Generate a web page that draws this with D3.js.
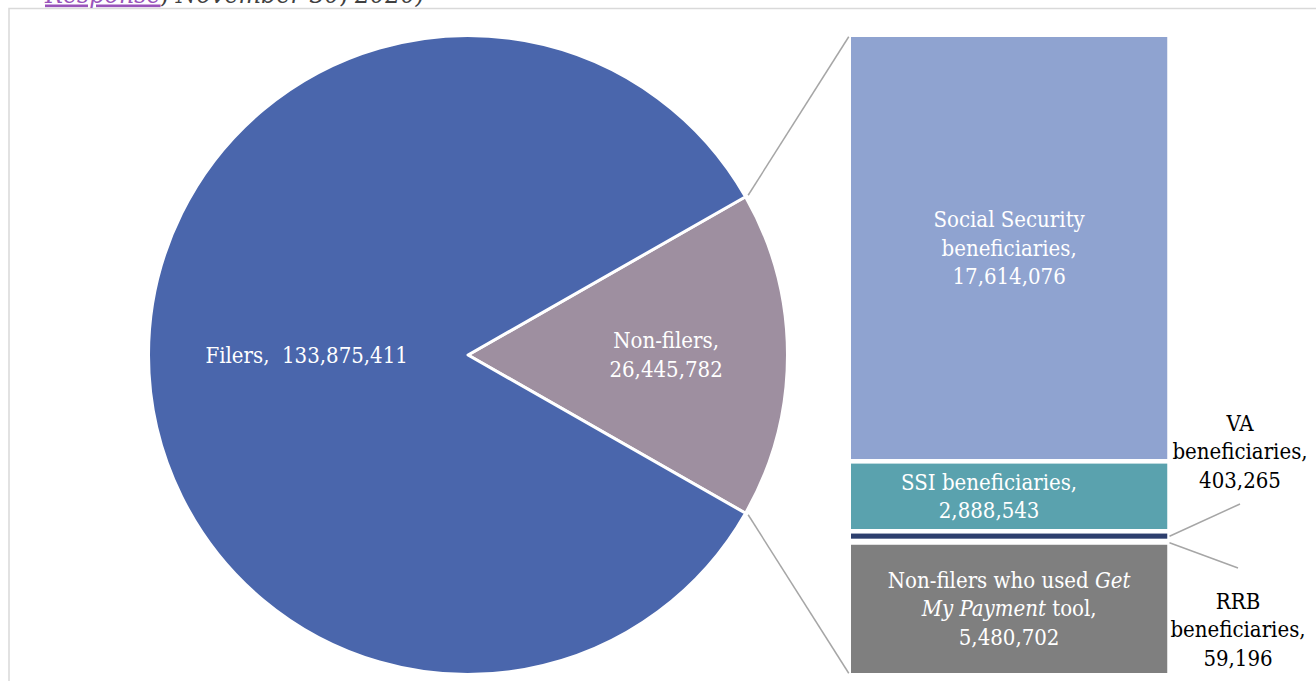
<!DOCTYPE html>
<html>
<head>
<meta charset="utf-8">
<script src="https://cdn.jsdelivr.net/npm/d3@7"></script>
<style>
  html, body { margin: 0; padding: 0; background: #fff; overflow: hidden; }
  svg { display: block; }
  text { font-family: "DejaVu Serif Condensed", "DejaVu Serif", serif; }
</style>
</head>
<body>
<svg id="chart" width="1316" height="681"></svg>
<script>
// ---- data ----
const pieCategories = ["Non-filers", "Filers"];
const pieValues = [26445782, 133875411];
const pieColors = ["#9e8fa0", "#4a66ac"];

const barCategories = ["Social Security", "SSI", "VA", "RRB", "Get My Payment"];
const barValues = [17614076, 2888543, 403265, 59196, 5480702];
const barColors = ["#8fa3d0", "#5aa2ae", "#2d3f6d", "#b4c1e0", "#7f7f7f"];
// label text lines per segment; *...* marks italic runs
const barLabelLines = [
  ["Social Security", "beneficiaries,"],
  ["SSI beneficiaries,"],
  ["VA", "beneficiaries,"],
  ["RRB", "beneficiaries,"],
  ["Non-filers who used *Get*", "*My Payment* tool,"]
];

const fmt = d3.format(",");
const svg = d3.select("#chart");

// ---- frame and caption above it ----
svg.append("path")
  .attr("d", "M9,681 V8.5 H1316")
  .attr("fill", "none")
  .attr("stroke", "#d9d9d9")
  .attr("stroke-width", 1.5);

const cap = svg.append("text")
  .attr("x", 45).attr("y", 2.5)
  .attr("font-family", "Liberation Serif, serif")
  .attr("font-style", "italic")
  .attr("font-size", 26.5);
cap.append("tspan").text("Response")
  .attr("fill", "#9954bb")
  .attr("text-decoration", "underline");
cap.append("tspan").text(", November 30, 2020)").attr("fill", "#404040");

// ---- pie ----
const cx = 468, cy = 355, R = 319.5;
const total = d3.sum(pieValues);
const sweep = 2 * Math.PI * pieValues[0] / total;
const start = Math.PI / 2 - sweep / 2;

const pie = d3.pie().sort(null).startAngle(start).endAngle(start + 2 * Math.PI);
const arcs = pie(pieValues);
const arc = d3.arc().innerRadius(0).outerRadius(R);

const gPie = svg.append("g").attr("transform", `translate(${cx},${cy})`);
gPie.selectAll("path").data(arcs).join("path")
  .attr("d", arc)
  .attr("fill", (d, i) => pieColors[i])
  .attr("stroke", "#fff")
  .attr("stroke-width", 3)
  .attr("stroke-linejoin", "round");

// pie labels
const lineH = 28.5;
const fs = 22;
const labelArcs = [d3.arc().innerRadius(0).outerRadius(R * 1.24),
                   d3.arc().innerRadius(0).outerRadius(R * 1.01)];
arcs.forEach((a, i) => {
  const [lx, ly] = labelArcs[i].centroid(a);
  const lines = i === 0
    ? [pieCategories[i] + ",", fmt(pieValues[i])]
    : [pieCategories[i] + ",\u00a0 " + fmt(pieValues[i])];
  const t = gPie.append("text")
    .attr("text-anchor", "middle")
    .attr("fill", "#fff")
    .attr("font-size", fs);
  lines.forEach((s, k) => {
    t.append("tspan")
      .attr("x", lx)
      .attr("y", ly + 7.5 + (k - (lines.length - 1) / 2) * lineH)
      .text(s);
  });
});

// ---- stacked bar ----
const barTotal = d3.sum(barValues);
const bx0 = 848.75, bx1 = 1169.5;
const y = d3.scaleLinear().domain([0, barTotal]).range([34.75, 675.25]);
const stack = [];
let acc = 0;
barValues.forEach((v, i) => { stack.push({ i, v, y0: acc, y1: acc + v }); acc += v; });

svg.append("g").selectAll("rect").data(stack).join("rect")
  .attr("x", bx0)
  .attr("width", bx1 - bx0)
  .attr("y", d => y(d.y0))
  .attr("height", d => y(d.y1) - y(d.y0))
  .attr("fill", d => barColors[d.i])
  .attr("stroke", "#fff")
  .attr("stroke-width", 4.5);

// connector lines from the Non-filers slice to the bar
const a0 = arcs[0].startAngle, a1 = arcs[0].endAngle, rc = R + 3;
const conn = [
  [cx + rc * Math.sin(a0), cy - rc * Math.cos(a0), bx0, y(0) + 2],
  [cx + rc * Math.sin(a1), cy - rc * Math.cos(a1), bx0, y(barTotal) - 2]
];
svg.append("g").selectAll("line").data(conn).join("line")
  .attr("x1", d => d[0]).attr("y1", d => d[1])
  .attr("x2", d => d[2]).attr("y2", d => d[3])
  .attr("stroke", "#a6a6a6")
  .attr("stroke-width", 1.5);

// writes one label line, honouring *italic* runs
function addLine(t, s, x, yy) {
  const ts = t.append("tspan").attr("x", x).attr("y", yy);
  s.split("*").forEach((part, k) => {
    if (!part) return;
    ts.append("tspan").attr("font-style", k % 2 ? "italic" : null).text(part);
  });
}

const barMid = (bx0 + bx1) / 2;
const inside = [0, 1, 4];
inside.forEach(i => {
  const d = stack[i];
  const lines = barLabelLines[i].concat([fmt(d.v)]);
  const my = (y(d.y0) + y(d.y1)) / 2;
  const lx = i === 1 ? barMid - 20 : barMid;
  const t = svg.append("text")
    .attr("text-anchor", "middle")
    .attr("fill", "#fff")
    .attr("font-size", fs);
  lines.forEach((s, k) => addLine(t, s, lx, my + 7.5 + (k - (lines.length - 1) / 2) * lineH));
});

// thin segments: labels outside the bar with leader lines
const outside = [
  { i: 2, tx: 1240, ty: 504, firstLine: 423 },
  { i: 3, tx: 1238, ty: 568, firstLine: 601 }
];
outside.forEach(o => {
  const d = stack[o.i];
  const my = (y(d.y0) + y(d.y1)) / 2;
  svg.append("line")
    .attr("x1", bx1).attr("y1", my + (o.i === 2 ? 0 : 1))
    .attr("x2", o.tx).attr("y2", o.ty)
    .attr("stroke", "#a6a6a6")
    .attr("stroke-width", 1.5);
  const lines = barLabelLines[o.i].concat([fmt(d.v)]);
  const t = svg.append("text")
    .attr("text-anchor", "middle")
    .attr("fill", "#000")
    .attr("font-size", fs);
  lines.forEach((s, k) => addLine(t, s, o.tx, o.firstLine + 7.5 + k * lineH));
});
</script>
</body>
</html>
